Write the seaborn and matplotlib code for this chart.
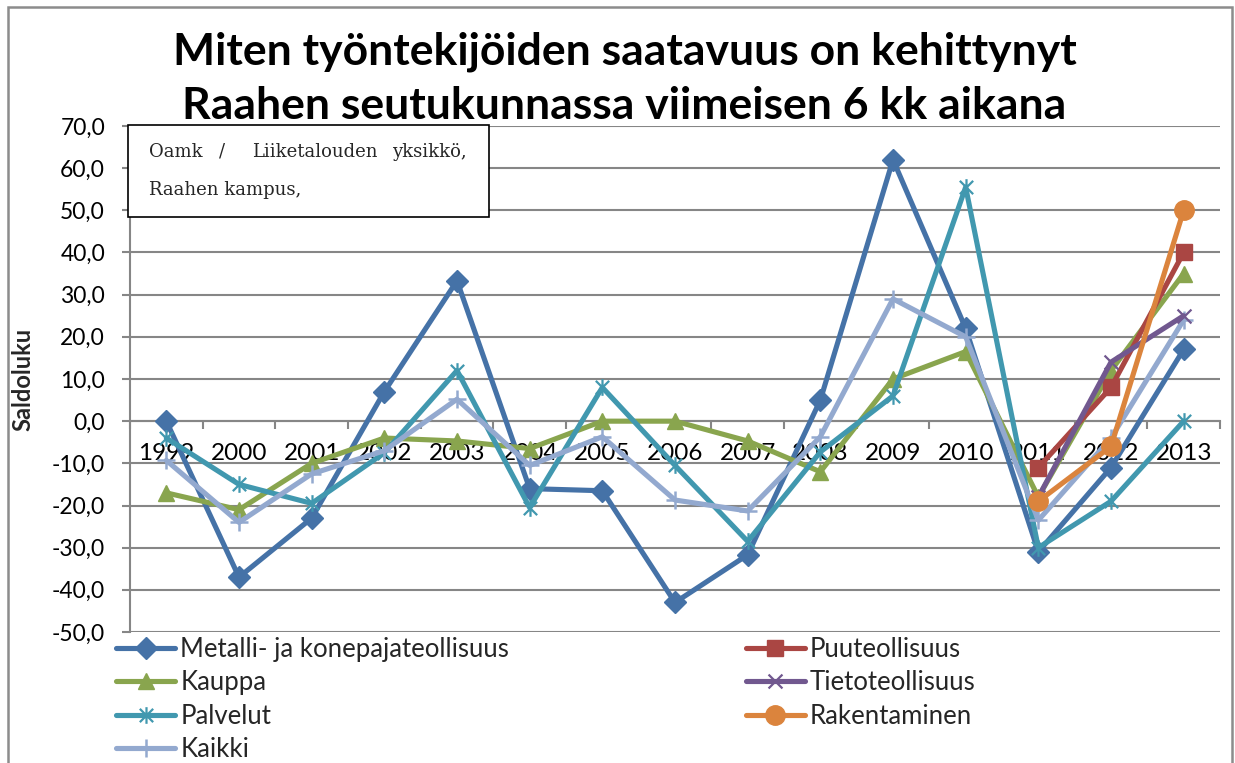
import numpy as np
import pandas as pd
import matplotlib
matplotlib.use("Agg")
import matplotlib.pyplot as plt
import seaborn as sns
from matplotlib.path import Path
from matplotlib.patches import Rectangle
from matplotlib.ticker import FuncFormatter, FixedLocator

# ---------------- data ----------------
years = list(range(1999, 2014))
metalli = [0, -37, -23, 7, 33.3, -16, -16.5, -43, -31.7, 5, 62, 22, -31, -11, 17]
kauppa = [-17, -21, -10, -4, -4.7, -6.5, 0, 0, -4.7, -12, 10, 16.5, -18, 12, 35]
palvelut = [-4, -15, -19.5, -7.5, 12, -20.5, 8, -10.5, -28.5, -7.3, 6, 55.5, -30, -19, 0]
kaikki = [-9.3, -24, -12.5, -7, 5.2, -10.5, -3.7, -18.7, -21.3, -3.7, 29, 20, -23.5, -4, 24]
puu = [np.nan] * 12 + [-11, 8, 40]
tieto = [np.nan] * 12 + [-18, 14, 25]
rakentaminen = [np.nan] * 12 + [-19, -6, 50]

series_names = ["Metalli- ja konepajateollisuus", "Kauppa", "Palvelut", "Kaikki",
                "Puuteollisuus", "Tietoteollisuus", "Rakentaminen"]
series_values = [metalli, kauppa, palvelut, kaikki, puu, tieto, rakentaminen]

title_lines = ["Miten työntekijöiden saatavuus on kehittynyt",
               "Raahen seutukunnassa viimeisen 6 kk aikana"]
y_label = "Saldoluku"
note_words = ["Oamk", "/", "Liiketalouden", "yksikkö,"]
note_line2 = "Raahen kampus,"

# ---------------- style ----------------
colors = ["#4572A7", "#89A54E", "#4198AF", "#93A9CF", "#AA4643", "#71588F", "#DB843D"]
asterisk = Path([(-1, -1), (1, 1), (-1, 1), (1, -1), (0, -1.25), (0, 1.25)],
                [Path.MOVETO, Path.LINETO, Path.MOVETO, Path.LINETO, Path.MOVETO, Path.LINETO])
xmark = Path([(-1, -1), (1, 1), (-1, 1), (1, -1)],
             [Path.MOVETO, Path.LINETO, Path.MOVETO, Path.LINETO])
markers = ["D", "^", asterisk, "+", "s", xmark, "o"]
msizes = [11, 12, 12, 13, 11, 10, 14]
mews = [1, 1, 1.6, 1.8, 1, 1.6, 1]

sns.set_style("white")
plt.rcParams["font.family"] = ["Lato", "DejaVu Sans"]

W, H = 1235, 763
fig = plt.figure(figsize=(W / 100, H / 100), dpi=100)

def fx(px):
    return px / W

def fy(py):
    return 1 - py / H

ax = fig.add_axes([fx(130), fy(632), fx(1220) - fx(130), fy(126) - fy(632)])

rows = []
for name, vals in zip(series_names, series_values):
    for yr, v in zip(years, vals):
        rows.append({"year": yr, "value": v, "series": name})
df = pd.DataFrame(rows)

for i, name in enumerate(series_names):
    sub = df[df["series"] == name].dropna()
    sns.lineplot(data=sub, x="year", y="value", ax=ax, color=colors[i], lw=3.7,
                 marker=markers[i], markersize=msizes[i], markeredgewidth=mews[i],
                 markeredgecolor=colors[i], markerfacecolor=colors[i],
                 estimator=None, sort=False, label=name, zorder=3 + i * 0.01)

ax.set_xlim(1998.5, 2013.5)
ax.set_ylim(-50, 70)
ax.set_yticks(np.arange(-50, 71, 10))
ax.yaxis.set_major_formatter(FuncFormatter(lambda v, p: f"{v:.1f}".replace(".", ",")))
ax.set_xticks(years)
ax.set_xticklabels([str(y) for y in years])
ax.xaxis.set_minor_locator(FixedLocator(np.arange(1998.5, 2014, 1)))
ax.grid(axis="y", color="#868686", lw=1.5)
ax.grid(axis="x", visible=False)
ax.set_axisbelow(True)

for s in ["top", "right"]:
    ax.spines[s].set_visible(False)
ax.spines["left"].set_color("#868686")
ax.spines["left"].set_linewidth(1.5)
ax.spines["bottom"].set_position(("data", 0))
ax.spines["bottom"].set_color("#868686")
ax.spines["bottom"].set_linewidth(1.5)

ax.tick_params(axis="y", which="major", left=True, length=6, width=1.5, color="#868686",
               labelsize=16.5, pad=12, labelcolor="black")
ax.tick_params(axis="x", which="major", length=0, labelsize=17.5, pad=16, labelcolor="black")
ax.tick_params(axis="x", which="minor", bottom=True, length=6, width=1.5, color="#868686", direction="out")
for lab in ax.get_xticklabels():
    lab.set_verticalalignment("top")

ax.set_xlabel("")
ax.set_ylabel(y_label, fontsize=17, fontweight="bold")
ax.yaxis.set_label_coords(-(130 - 34) / 1090, 0.5)

# legend
handles, labels = ax.get_legend_handles_labels()
if ax.get_legend():
    ax.get_legend().remove()
leg = fig.legend(handles, labels, ncol=2, loc="upper left",
                 bbox_to_anchor=(fx(116), fy(637)), frameon=False,
                 fontsize=18.5, handlelength=2.3, handletextpad=0.2,
                 labelspacing=0.33, columnspacing=9.2, borderaxespad=0, borderpad=0)

# titles
fig.text(fx(625), fy(64), title_lines[0], ha="center", va="baseline",
         fontsize=32, fontweight="bold", color="black")
fig.text(fx(624), fy(119), title_lines[1], ha="center", va="baseline",
         fontsize=32, fontweight="bold", color="black")

# note box
fig.patches.append(Rectangle((fx(128), fy(217)), fx(489) - fx(128), fy(125) - fy(217),
                             transform=fig.transFigure, facecolor="white",
                             edgecolor="black", lw=1.2, zorder=5))
word_x = [149, 219, 252, 392]
for wx, wd in zip(word_x, note_words):
    fig.text(fx(wx), fy(157), wd, ha="left", va="baseline", fontsize=13,
             family="DejaVu Serif", zorder=6)
fig.text(fx(149), fy(195), note_line2, ha="left", va="baseline", fontsize=13,
         family="DejaVu Serif", zorder=6)

# outer border
fig.patches.append(Rectangle((fx(8), -0.05), fx(1232) - fx(8), fy(7) + 0.05,
                             transform=fig.transFigure, facecolor="none",
                             edgecolor="#8c8c8c", lw=1.8, zorder=1))

fig.savefig("out.png", dpi=100)
